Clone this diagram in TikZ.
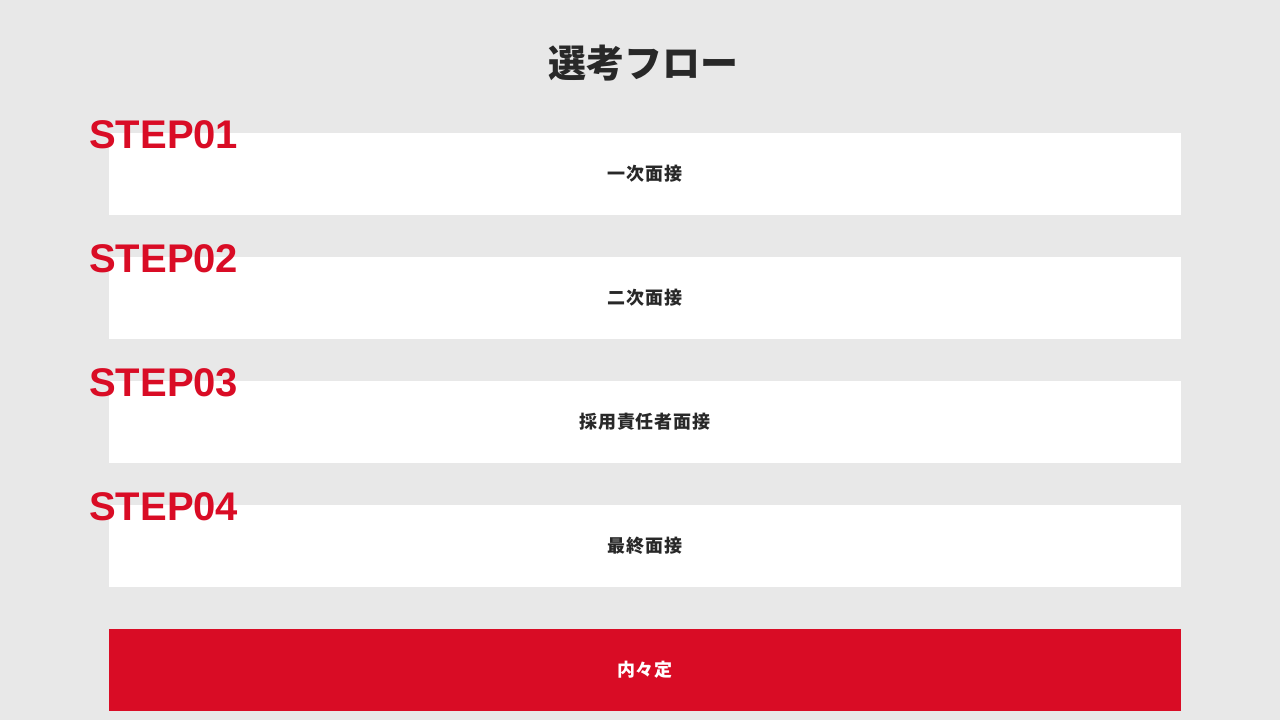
\documentclass[tikz,border=0pt]{standalone}
\usepackage{fontspec}
\setmainfont{Liberation Sans}
\newfontfamily\jpfont{Noto Sans CJK JP}
\newfontfamily\jpspaced[LetterSpace=5]{Noto Sans CJK JP}
\usetikzlibrary{positioning}
\definecolor{flowred}{RGB}{217,12,37}
\definecolor{flowgray}{RGB}{232,232,232}
\definecolor{flowtext}{RGB}{40,40,40}
\tikzset{
  stagebox/.style={rectangle, fill=white, minimum width=1072pt, minimum height=82pt, inner sep=0pt,
    text=flowtext, font=\jpspaced\bfseries\fontsize{18}{18}\selectfont},
  offerbox/.style={stagebox, fill=flowred, text=white},
  steplabel/.style={anchor=base west, inner sep=0pt, text=flowred,
    font=\bfseries\fontsize{40}{40}\selectfont}
}
\begin{document}
\begin{tikzpicture}[x=1pt,y=-1pt]
  \fill [flowgray] (0,0) rectangle (1280,720);
  \useasboundingbox (0,0) rectangle (1280,720);

  \node (title) [text=flowtext, font=\jpfont\bfseries\fontsize{38}{38}\selectfont] at (643,63) {選考フロー};

  \node (stage1) [stagebox] at (645,174) {一次面接};
  \node (stage2) [stagebox] at (645,298) {二次面接};
  \node (stage3) [stagebox] at (645,422) {採用責任者面接};
  \node (stage4) [stagebox] at (645,546) {最終面接};
  \node (offer) [offerbox] at (645,670) {内々定};

  \node (step1) [steplabel] at (89,148) {STEP01};
  \node (step2) [steplabel] at (89,272) {STEP02};
  \node (step3) [steplabel] at (89,396) {STEP03};
  \node (step4) [steplabel] at (89,520) {STEP04};
\end{tikzpicture}
\end{document}
